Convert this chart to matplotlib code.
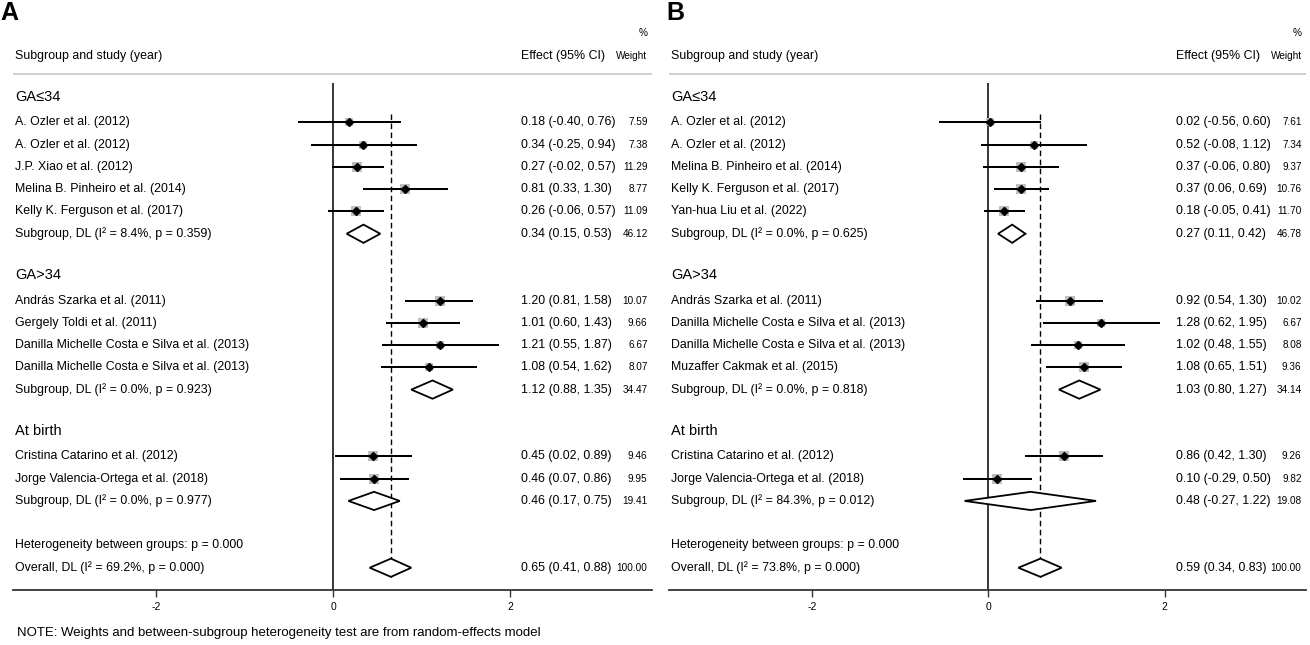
import numpy as np
import matplotlib
matplotlib.use("Agg")
import matplotlib.pyplot as plt

# ---- panel A data ----
a_groups = ["GA≤34", "GA>34", "At birth"]
a_names = [
    ["A. Ozler et al. (2012)", "A. Ozler et al. (2012)", "J.P. Xiao et al. (2012)",
     "Melina B. Pinheiro et al. (2014)", "Kelly K. Ferguson et al. (2017)"],
    ["András Szarka et al. (2011)", "Gergely Toldi et al. (2011)",
     "Danilla Michelle Costa e Silva et al. (2013)", "Danilla Michelle Costa e Silva et al. (2013)"],
    ["Cristina Catarino et al. (2012)", "Jorge Valencia-Ortega et al. (2018)"],
]
a_es = [[0.18, 0.34, 0.27, 0.81, 0.26], [1.20, 1.01, 1.21, 1.08], [0.45, 0.46]]
a_lo = [[-0.40, -0.25, -0.02, 0.33, -0.06], [0.81, 0.60, 0.55, 0.54], [0.02, 0.07]]
a_hi = [[0.76, 0.94, 0.57, 1.30, 0.57], [1.58, 1.43, 1.87, 1.62], [0.89, 0.86]]
a_w = [[7.59, 7.38, 11.29, 8.77, 11.09], [10.07, 9.66, 6.67, 8.07], [9.46, 9.95]]
a_sub_label = ["Subgroup, DL (I² = 8.4%, p = 0.359)", "Subgroup, DL (I² = 0.0%, p = 0.923)",
               "Subgroup, DL (I² = 0.0%, p = 0.977)"]
a_sub_es = [0.34, 1.12, 0.46]
a_sub_lo = [0.15, 0.88, 0.17]
a_sub_hi = [0.53, 1.35, 0.75]
a_sub_w = [46.12, 34.47, 19.41]
a_overall_label = "Overall, DL (I² = 69.2%, p = 0.000)"
a_overall = [0.65, 0.41, 0.88, 100.00]

# ---- panel B data ----
b_groups = ["GA≤34", "GA>34", "At birth"]
b_names = [
    ["A. Ozler et al. (2012)", "A. Ozler et al. (2012)", "Melina B. Pinheiro et al. (2014)",
     "Kelly K. Ferguson et al. (2017)", "Yan-hua Liu et al. (2022)"],
    ["András Szarka et al. (2011)", "Danilla Michelle Costa e Silva et al. (2013)",
     "Danilla Michelle Costa e Silva et al. (2013)", "Muzaffer Cakmak et al. (2015)"],
    ["Cristina Catarino et al. (2012)", "Jorge Valencia-Ortega et al. (2018)"],
]
b_es = [[0.02, 0.52, 0.37, 0.37, 0.18], [0.92, 1.28, 1.02, 1.08], [0.86, 0.10]]
b_lo = [[-0.56, -0.08, -0.06, 0.06, -0.05], [0.54, 0.62, 0.48, 0.65], [0.42, -0.29]]
b_hi = [[0.60, 1.12, 0.80, 0.69, 0.41], [1.30, 1.95, 1.55, 1.51], [1.30, 0.50]]
b_w = [[7.61, 7.34, 9.37, 10.76, 11.70], [10.02, 6.67, 8.08, 9.36], [9.26, 9.82]]
b_sub_label = ["Subgroup, DL (I² = 0.0%, p = 0.625)", "Subgroup, DL (I² = 0.0%, p = 0.818)",
               "Subgroup, DL (I² = 84.3%, p = 0.012)"]
b_sub_es = [0.27, 1.03, 0.48]
b_sub_lo = [0.11, 0.80, -0.27]
b_sub_hi = [0.42, 1.27, 1.22]
b_sub_w = [46.78, 34.14, 19.08]
b_overall_label = "Overall, DL (I² = 73.8%, p = 0.000)"
b_overall = [0.59, 0.34, 0.83, 100.00]

het_label = "Heterogeneity between groups: p = 0.000"
note = "NOTE: Weights and between-subgroup heterogeneity test are from random-effects model"
ticks = [-2, 0, 2]

W, H = 1310, 645
fig = plt.figure(figsize=(W / 100, H / 100), dpi=100)

NAME_X, EFF_X, WT_X = -3.6, 2.125, 3.55
DH = 0.41  # half height of diamonds (rows)
FAM = ["Liberation Sans", "DejaVu Sans"]


def diamond(ax, r, es, lo, hi):
    ax.fill([lo, es, hi, es], [r, r - DH, r, r + DH], facecolor="white",
            edgecolor="black", lw=1.3, zorder=4)


def eff_text(es, lo, hi):
    return f"{es:.2f} ({lo:.2f}, {hi:.2f})"


def draw_panel(left_px, right_px, groups, names, es, lo, hi, w,
               sub_label, sub_es, sub_lo, sub_hi, sub_w, ov_label, ov):
    top_px, bot_px = 20, 590
    ax = fig.add_axes([left_px / W, 1 - bot_px / H, (right_px - left_px) / W,
                       (bot_px - top_px) / H])
    ax.set_xlim(-3.62, 3.60)
    ax.set_ylim(22, -3.6)
    for s in ["top", "left", "right"]:
        ax.spines[s].set_visible(False)
    ax.spines["bottom"].set_color("#333333")
    ax.spines["bottom"].set_linewidth(1.3)
    ax.set_yticks([])
    ax.set_xticks(ticks)
    ax.set_xticklabels([str(t) for t in ticks], family=FAM)
    ax.tick_params(axis="x", length=5, width=1, labelsize=7.5, pad=4, color="#333333")

    fs = 8.9
    small = 7.2
    kw = dict(family=FAM, va="center", clip_on=False)

    # header
    ax.text(WT_X, -3.0, "%", ha="right", fontsize=small, **kw)
    ax.text(NAME_X, -2.0, "Subgroup and study (year)", ha="left", fontsize=fs, **kw)
    ax.text(EFF_X, -2.0, "Effect (95% CI)", ha="left", fontsize=fs, **kw)
    ax.text(WT_X, -2.0, "Weight", ha="right", fontsize=small, **kw)
    ax.axhline(-1.18, color="#cccccc", lw=1.3)

    r = 0
    for g in range(len(groups)):
        ax.text(NAME_X, r - 0.15, groups[g], ha="left", fontsize=10.5, **kw)
        r += 1
        for i in range(len(names[g])):
            ax.scatter(es[g][i], r, marker="s", s=5.0 * w[g][i], color="#bfbfbf",
                       linewidths=0, zorder=2)
            ax.hlines(r, lo[g][i], hi[g][i], color="black", lw=1.45, zorder=3)
            ax.plot(es[g][i], r, marker="D", ms=4.2, color="black", zorder=5)
            ax.text(NAME_X, r, names[g][i], ha="left", fontsize=fs, **kw)
            ax.text(EFF_X, r, eff_text(es[g][i], lo[g][i], hi[g][i]), ha="left",
                    fontsize=fs, **kw)
            ax.text(WT_X, r, f"{w[g][i]:.2f}", ha="right", fontsize=small, **kw)
            r += 1
        diamond(ax, r, sub_es[g], sub_lo[g], sub_hi[g])
        ax.text(NAME_X, r, sub_label[g], ha="left", fontsize=fs, **kw)
        ax.text(EFF_X, r, eff_text(sub_es[g], sub_lo[g], sub_hi[g]), ha="left",
                fontsize=fs, **kw)
        ax.text(WT_X, r, f"{sub_w[g]:.2f}", ha="right", fontsize=small, **kw)
        r += 2

    ax.text(NAME_X, r, het_label, ha="left", fontsize=fs, **kw)
    r += 1
    diamond(ax, r, ov[0], ov[1], ov[2])
    ax.text(NAME_X, r, ov_label, ha="left", fontsize=fs, **kw)
    ax.text(EFF_X, r, eff_text(ov[0], ov[1], ov[2]), ha="left", fontsize=fs, **kw)
    ax.text(WT_X, r, f"{ov[3]:.2f}", ha="right", fontsize=small, **kw)

    # reference lines
    ax.vlines(0, -0.78, 22, color="black", lw=1.1, zorder=1)
    ax.vlines(ov[0], 0.6, r + DH, color="black", lw=1.0,
              linestyles=(0, (4, 2.5)), zorder=1)
    return ax


draw_panel(13, 652, a_groups, a_names, a_es, a_lo, a_hi, a_w, a_sub_label,
           a_sub_es, a_sub_lo, a_sub_hi, a_sub_w, a_overall_label, a_overall)
draw_panel(669, 1306, b_groups, b_names, b_es, b_lo, b_hi, b_w, b_sub_label,
           b_sub_es, b_sub_lo, b_sub_hi, b_sub_w, b_overall_label, b_overall)

fig.text(0 / W, 1 - 13 / H, "A", fontsize=18, weight="bold", va="center", family=FAM)
fig.text(666 / W, 1 - 13 / H, "B", fontsize=18, weight="bold", va="center", family=FAM)
fig.text(17 / W, 1 - 633 / H, note, fontsize=9.5, va="center", family=FAM)

fig.savefig("out.png", dpi=100, facecolor="white")
